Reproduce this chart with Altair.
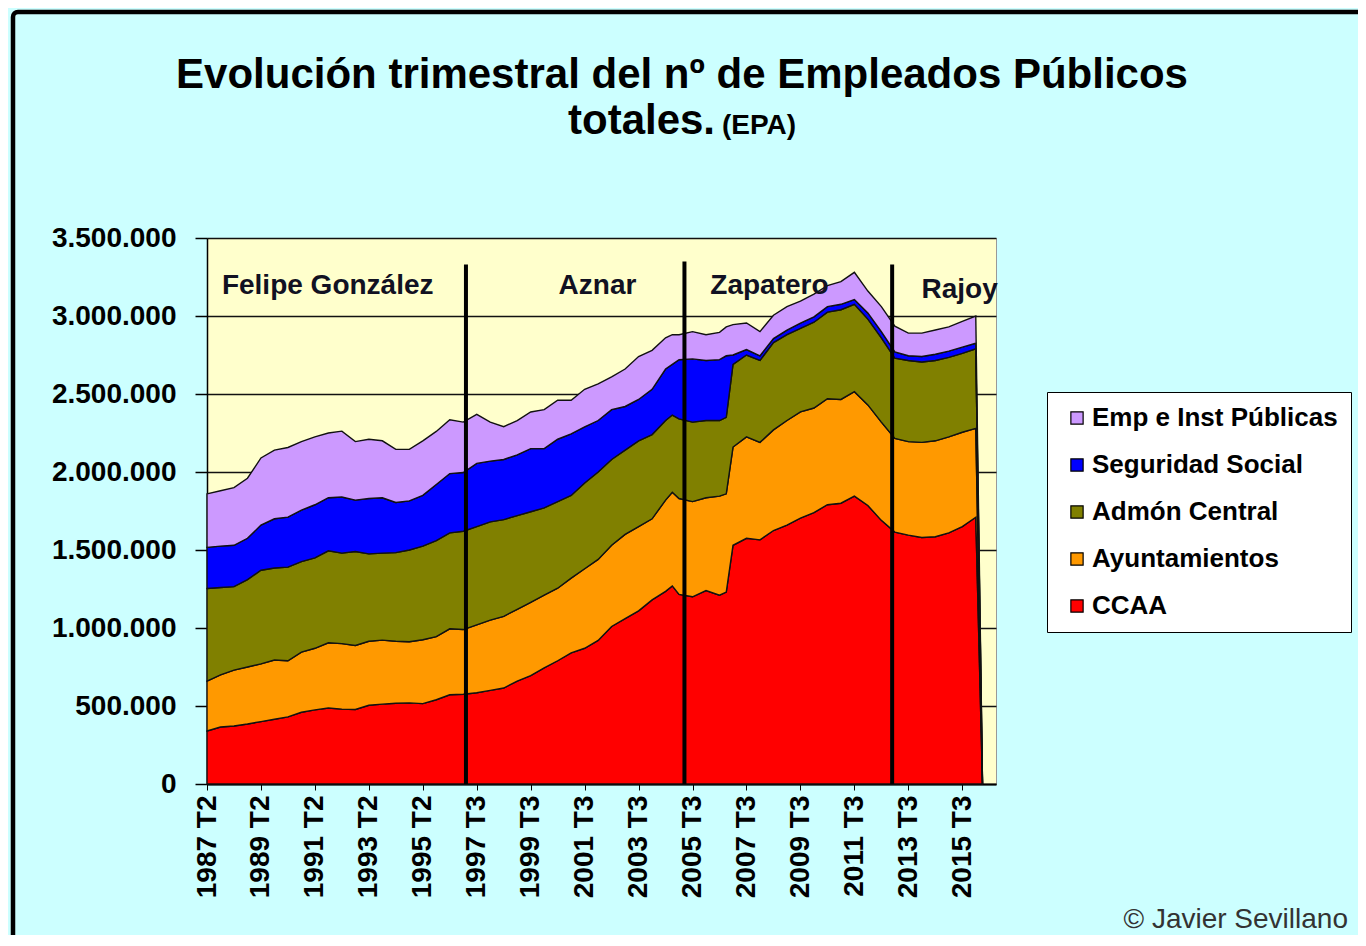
import json
import altair as alt
import pandas as pd

# ---------------- data (thousands of employees) ----------------
trimestres = [0, 2, 4, 6, 8, 10, 12, 14, 16, 18, 20, 22, 24, 26, 28, 30, 32, 34, 36, 38,
              40, 42, 44, 46, 48, 50, 52, 54, 56, 58, 60, 62, 64, 66, 68, 69, 70, 72, 74, 76,
              77, 78, 80, 82, 84, 86, 88, 90, 92, 94, 96, 98, 100, 102, 104, 106, 108, 110,
              112, 114, 115]

ccaa = [340, 365, 372, 385, 400, 415, 430, 460, 475, 487, 480, 478, 505, 512, 518, 520, 515, 540, 572, 575,
        585, 600, 615, 660, 695, 745, 790, 840, 870, 920, 1010, 1060, 1110, 1180, 1235, 1270, 1215, 1200, 1240, 1210,
        1230, 1530, 1575, 1565, 1625, 1660, 1705, 1740, 1790, 1800, 1845, 1785, 1690, 1615, 1595, 1580, 1585, 1610,
        1650, 1710, 0]

ayuntamientos = [319, 335, 358, 365, 370, 380, 360, 385, 395, 418, 420, 410, 410, 410, 397, 392, 410, 405, 423, 415,
                 435, 450, 460, 460, 470, 465, 465, 480, 510, 520, 520, 540, 540, 520, 585, 600, 615, 610, 595, 635,
                 630, 630, 650, 625, 645, 670, 680, 670, 680, 665, 670, 645, 630, 600, 600, 610, 615, 615,
                 605, 570, 0]

admon_central = [594, 560, 535, 560, 600, 590, 600, 580, 580, 590, 580, 602, 560, 558, 568, 588, 600, 615, 615, 630,
                 630, 630, 620, 600, 580, 560, 555, 530, 550, 560, 550, 540, 550, 540, 510, 495, 510, 510, 495, 485,
                 490, 530, 525, 525, 560, 550, 535, 550, 555, 575, 560, 550, 540, 515, 520, 515, 515, 510,
                 505, 510, 0]

seguridad_social = [264, 265, 265, 265, 290, 315, 321, 330, 340, 340, 360, 330, 355, 355, 322, 315, 325, 360, 380, 377,
                    405, 390, 385, 390, 405, 380, 400, 395, 360, 330, 320, 280, 265, 290, 330, 325, 380, 405, 385, 390,
                    395, 60, 35, 30, 25, 30, 35, 35, 35, 35, 30, 40, 40, 40, 30, 35, 40, 40,
                    40, 35, 0]

emp_publicas = [343, 355, 370, 385, 430, 440, 446, 440, 435, 415, 422, 375, 380, 365, 340, 330, 350, 340, 345, 323,
                315, 250, 210, 220, 235, 250, 250, 215, 240, 235, 210, 240, 275, 250, 200, 190, 160, 175, 165, 175,
                185, 195, 170, 155, 150, 150, 140, 145, 135, 145, 175, 140, 160, 165, 145, 150, 155, 155,
                165, 175, 0]

series = ["CCAA", "Ayuntamientos", "Admón Central", "Seguridad Social", "Emp e Inst Públicas"]
colores = ["#FF0000", "#FF9900", "#808000", "#0000FF", "#CC99FF"]

etiquetas_x = ["1987 T2", "1989 T2", "1991 T2", "1993 T2", "1995 T2", "1997 T3", "1999 T3", "2001 T3",
               "2003 T3", "2005 T3", "2007 T3", "2009 T3", "2011 T3", "2013 T3", "2015 T3"]
valores_y = [0, 500000, 1000000, 1500000, 2000000, 2500000, 3000000, 3500000]
etiquetas_y = ["0", "500.000", "1.000.000", "1.500.000", "2.000.000", "2.500.000", "3.000.000", "3.500.000"]

# government periods
cambios = [38.4, 70.8, 101.6]
cambios_top = [3330000, 3350000, 3330000]
presidentes = ["Felipe González", "Aznar", "Zapatero", "Rajoy"]
presidentes_t = [17.9, 57.9, 83.4, 111.6]
presidentes_v = [3190000, 3190000, 3190000, 3165000]

# ---------------- build tables ----------------
rows = []
for orden, (nombre, vals) in enumerate(zip(series, [ccaa, ayuntamientos, admon_central,
                                                     seguridad_social, emp_publicas])):
    for t, v in zip(trimestres, vals):
        rows.append({"t": t, "serie": nombre, "valor": v * 1000, "orden": orden})
df = pd.DataFrame(rows)

df_rules = pd.DataFrame({"t": cambios, "base": [0] * len(cambios), "top": cambios_top})
df_pres = pd.DataFrame({"t": presidentes_t, "v": presidentes_v, "nombre": presidentes})

FONT = "Liberation Sans, Arial, sans-serif"

x_scale = alt.Scale(domain=[0, 117], nice=False, zero=False)
y_scale = alt.Scale(domain=[0, 3500000], nice=False)

x_label_expr = ("datum.value % 8 == 0 && datum.value / 8 < " + str(len(etiquetas_x)) +
                " ? " + json.dumps(etiquetas_x) + "[datum.value / 8] : ''")
y_label_expr = json.dumps(etiquetas_y) + "[round(datum.value / 500000)]"

x_axis = alt.Axis(
    values=list(range(0, 118)),
    labelExpr=x_label_expr,
    labelAngle=270, labelFont=FONT, labelFontSize=28, labelFontWeight="bold",
    labelColor="#000000", labelPadding=5, labelOverlap=False, labelFlush=False,
    tickSize=6, tickColor="#000000", tickWidth=1,
    domainColor="#000000", domainWidth=2, grid=False, title=None,
)
y_axis = alt.Axis(
    values=valores_y,
    labelExpr=y_label_expr,
    labelFont=FONT, labelFontSize=28, labelFontWeight="bold", labelColor="#000000",
    labelPadding=19, tickSize=12, tickColor="#000000", tickWidth=1.5,
    domainColor="#000000", domainWidth=1.5,
    grid=True, gridColor="#111111", gridWidth=1.3, title=None,
)

legend_order = series[::-1]
legend_colors = colores[::-1]

areas = alt.Chart(df).mark_area(stroke="#111111", strokeWidth=1.4, interpolate="linear", opacity=1).encode(
    x=alt.X("t:Q", scale=x_scale, axis=x_axis),
    y=alt.Y("valor:Q", stack="zero", scale=y_scale, axis=y_axis),
    color=alt.Color(
        "serie:N",
        scale=alt.Scale(domain=legend_order, range=legend_colors),
        legend=alt.Legend(
            orient="none", legendX=840, legendY=154, title=None,
            fillColor="#FFFFFF", strokeColor="#000000", padding=13,
            symbolType="square", symbolSize=150, symbolStrokeColor="#000000",
            symbolStrokeWidth=1.2, symbolOpacity=1, symbolOffset=4,
            labelFont=FONT, labelFontSize=26, labelFontWeight="bold", labelColor="#000000",
            labelOffset=2, rowPadding=21, labelLimit=400,
        ),
    ),
    order=alt.Order("orden:Q", sort="ascending"),
)

rules = alt.Chart(df_rules).mark_rule(color="#000000", strokeWidth=4).encode(
    x=alt.X("t:Q", scale=x_scale),
    y=alt.Y("base:Q", scale=y_scale),
    y2="top:Q",
)

pres = alt.Chart(df_pres).mark_text(
    font=FONT, fontSize=28, fontWeight="bold", color="#111122", align="center", baseline="middle"
).encode(
    x=alt.X("t:Q", scale=x_scale),
    y=alt.Y("v:Q", scale=y_scale),
    text="nombre:N",
)

one = pd.DataFrame({"k": [0]})
title1 = alt.Chart(one).mark_text(
    text="Evolución trimestral del nº de Empleados Públicos", font=FONT, fontSize=42,
    fontWeight="bold", color="#000000", align="center", baseline="alphabetic"
).encode(x=alt.value(475), y=alt.value(-150))
title2 = alt.Chart(one).mark_text(
    text="totales.", font=FONT, fontSize=42, fontWeight="bold", color="#000000",
    align="left", baseline="alphabetic"
).encode(x=alt.value(361), y=alt.value(-104))
title3 = alt.Chart(one).mark_text(
    text="(EPA)", font=FONT, fontSize=28, fontWeight="bold", color="#000000",
    align="left", baseline="alphabetic"
).encode(x=alt.value(515), y=alt.value(-104))
autor = alt.Chart(one).mark_text(
    text="© Javier Sevillano", font=FONT, fontSize=28, color="#333333",
    align="right", baseline="alphabetic"
).encode(x=alt.value(1141), y=alt.value(690))
marco = alt.Chart(one).mark_rect(
    filled=False, color="#000000", strokeWidth=4.5, cornerRadius=5
).encode(x=alt.value(-194), x2=alt.value(1180), y=alt.value(-226), y2=alt.value(730))

chart = alt.layer(areas, rules, pres, title1, title2, title3, autor, marco).properties(
    width=789, height=546,
    padding={"left": 199, "top": 230, "right": 362, "bottom": 151},
    autosize=alt.AutoSizeParams(type="none"),
).configure(background="#CCFFFF").configure_view(
    fill="#FFFFCC", stroke="#999999", strokeWidth=1
)

chart.save("out.html", embed_options={"renderer": "svg", "actions": False})
